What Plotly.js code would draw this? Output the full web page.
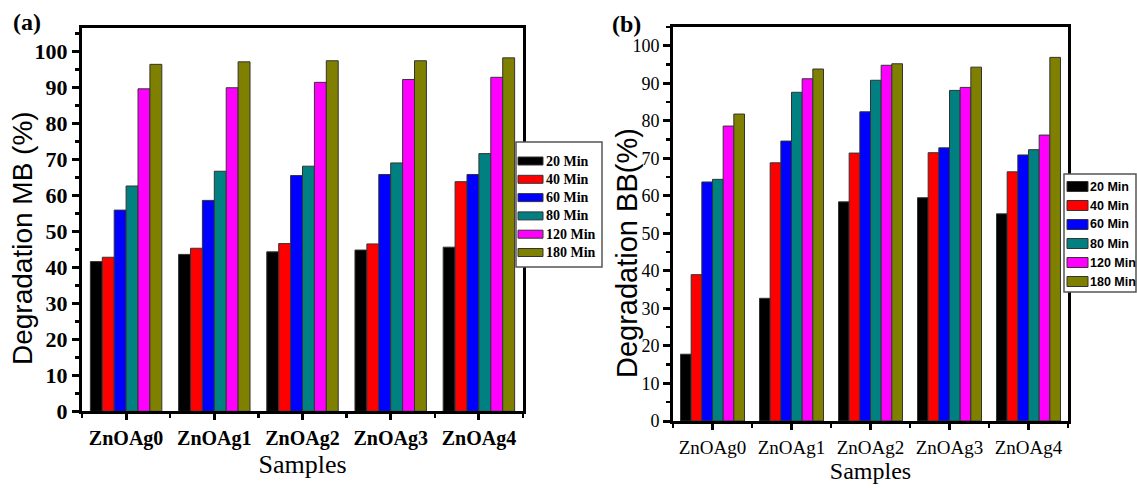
<!DOCTYPE html>
<html><head><meta charset="utf-8">
<script src="https://cdn.plot.ly/plotly-3.0.1.min.js"></script>
<style>html,body{margin:0;padding:0;background:#fff;}#chart{width:1137px;height:488px;}</style>
</head><body><div id="chart"></div>
<script>
// ---- data ----
const categories = ['ZnOAg0','ZnOAg1','ZnOAg2','ZnOAg3','ZnOAg4'];
const seriesNames = ['20 Min','40 Min','60 Min','80 Min','120 Min','180 Min'];
const seriesColors = ['#000000','#ff0000','#0000ff','#008080','#ff00ff','#808000'];

// Panel (a): Degradation MB (%)
const mb20  = [41.6, 43.6, 44.3, 44.8, 45.6];
const mb40  = [42.8, 45.3, 46.6, 46.5, 63.8];
const mb60  = [55.9, 58.6, 65.5, 65.8, 65.8];
const mb80  = [62.6, 66.7, 68.1, 69.0, 71.6];
const mb120 = [89.6, 89.9, 91.4, 92.2, 92.8];
const mb180 = [96.4, 97.1, 97.4, 97.4, 98.2];

// Panel (b): Degradation BB (%)
const bb20  = [17.8, 32.7, 58.4, 59.5, 55.2];
const bb40  = [39.0, 68.8, 71.4, 71.5, 66.4];
const bb60  = [63.7, 74.6, 82.4, 72.8, 70.9];
const bb80  = [64.4, 87.6, 90.8, 88.1, 72.3];
const bb120 = [78.6, 91.2, 94.8, 88.9, 76.2];
const bb180 = [81.8, 93.8, 95.2, 94.3, 96.9];

const mbSeries = [mb20, mb40, mb60, mb80, mb120, mb180];
const bbSeries = [bb20, bb40, bb60, bb80, bb120, bb180];

const titleA = 'Degradation MB (%)';
const titleB = 'Degradation BB(%)';
const xTitle = 'Samples';

// ---- figure ----
const W = 1137, H = 488;
const px = x => x / W;
const py = y => 1 - y / H;
const xIdx = categories.map((c, i) => i);
const minorX = categories.map((c, i) => i + 0.5).concat([-0.5]);

const traces = [];
mbSeries.forEach((vals, k) => traces.push({
  type: 'bar', x: xIdx, y: vals, name: seriesNames[k], xaxis: 'x', yaxis: 'y',
  marker: {color: seriesColors[k], line: {color: '#333333', width: 1}},
  showlegend: false, hoverinfo: 'skip'
}));
bbSeries.forEach((vals, k) => traces.push({
  type: 'bar', x: xIdx, y: vals, name: seriesNames[k], xaxis: 'x2', yaxis: 'y2',
  marker: {color: seriesColors[k], line: {color: '#333333', width: 1}},
  showlegend: false, hoverinfo: 'skip'
}));

function xAxis(domain, font, tfont, standoff) {
  return {
    domain: domain, range: [-0.5, categories.length - 0.5], fixedrange: true,
    tickmode: 'array', tickvals: xIdx, ticktext: categories,
    ticks: 'outside', ticklen: 6, tickwidth: 3, tickcolor: '#000',
    minor: {tickmode: 'array', tickvals: minorX, ticks: 'outside', ticklen: 4, tickwidth: 2.5, tickcolor: '#000'},
    showline: true, linewidth: 3, linecolor: '#000', mirror: true,
    showgrid: false, zeroline: false, tickfont: font, ticklabelstandoff: 1,
    title: {text: xTitle, font: tfont, standoff: standoff}
  };
}
function yAxis(domain, range, font) {
  return {
    domain: domain, range: range, fixedrange: true,
    tickmode: 'linear', tick0: 0, dtick: 10,
    ticks: 'outside', ticklen: 7, tickwidth: 3, tickcolor: '#000',
    minor: {dtick: 5, ticks: 'outside', ticklen: 4, tickwidth: 2.5, tickcolor: '#000'},
    showline: true, linewidth: 3, linecolor: '#000', mirror: true,
    showgrid: false, zeroline: false, tickfont: font
  };
}

const serifBold = (s) => ({family: 'Liberation Serif', size: s, color: '#000', weight: 'bold'});
const serif = (s) => ({family: 'Liberation Serif', size: s, color: '#000'});
const sans = (s) => ({family: 'Liberation Sans', size: s, color: '#000'});

const shapes = [];
const annotations = [];

function addLegend(box, firstRow, step, sw, font) {
  shapes.push({type: 'rect', xref: 'paper', yref: 'paper', layer: 'above',
    x0: px(box[0]), x1: px(box[1]), y0: py(box[2]), y1: py(box[3]),
    fillcolor: '#ffffff', line: {color: '#555555', width: 1.5}});
  seriesNames.forEach((name, k) => {
    const yc = firstRow + k * step;
    shapes.push({type: 'rect', xref: 'paper', yref: 'paper', layer: 'above',
      x0: px(sw[0]), x1: px(sw[1]), y0: py(yc - sw[2] / 2), y1: py(yc + sw[2] / 2),
      fillcolor: seriesColors[k], line: {color: '#333333', width: 1}});
    annotations.push({xref: 'paper', yref: 'paper', x: px(sw[3]), y: py(yc),
      xanchor: 'left', yanchor: 'middle', showarrow: false, text: name, font: font, borderpad: 0});
  });
}
addLegend([516, 602, 142, 267], 161, 18.3, [518, 543, 8, 545], serifBold(14));
addLegend([1064, 1136, 174, 292], 186.5, 19, [1067, 1088, 10, 1089],
  {family: 'Liberation Sans', size: 12.5, color: '#000', weight: 'bold'});

// panel labels
annotations.push({xref: 'paper', yref: 'paper', x: px(27), y: py(22), xanchor: 'center', yanchor: 'middle',
  showarrow: false, text: '(a)', font: serifBold(24)});
annotations.push({xref: 'paper', yref: 'paper', x: px(626), y: py(24), xanchor: 'center', yanchor: 'middle',
  showarrow: false, text: '(b)', font: serifBold(24)});
// y-axis titles (placed off-centre as in the source figure)
annotations.push({xref: 'paper', yref: 'paper', x: px(23), y: py(238), xanchor: 'center', yanchor: 'middle',
  showarrow: false, textangle: -90, text: titleA, font: sans(28)});
annotations.push({xref: 'paper', yref: 'paper', x: px(627), y: py(253), xanchor: 'center', yanchor: 'middle',
  showarrow: false, textangle: -90, text: titleB, font: sans(29)});

const layout = {
  width: W, height: H, margin: {l: 0, r: 0, t: 0, b: 0},
  paper_bgcolor: '#fff', plot_bgcolor: '#fff',
  barmode: 'group', bargap: 0.19, bargroupgap: 0,
  showlegend: false,
  xaxis: xAxis([px(82), px(523)], serifBold(20), serif(26), 4),
  yaxis: yAxis([py(411.3), py(28)], [0, 106.5], serifBold(22)),
  xaxis2: Object.assign(xAxis([px(673), px(1068)], serif(19), serif(24), 4), {anchor: 'y2'}),
  yaxis2: Object.assign(yAxis([py(421), py(27)], [0, 105], serif(18)), {anchor: 'x2'}),
  shapes: shapes, annotations: annotations
};
layout.xaxis.anchor = 'y';
layout.yaxis.anchor = 'x';

Plotly.newPlot('chart', traces, layout, {staticPlot: true, displayModeBar: false});
</script>
</body></html>
